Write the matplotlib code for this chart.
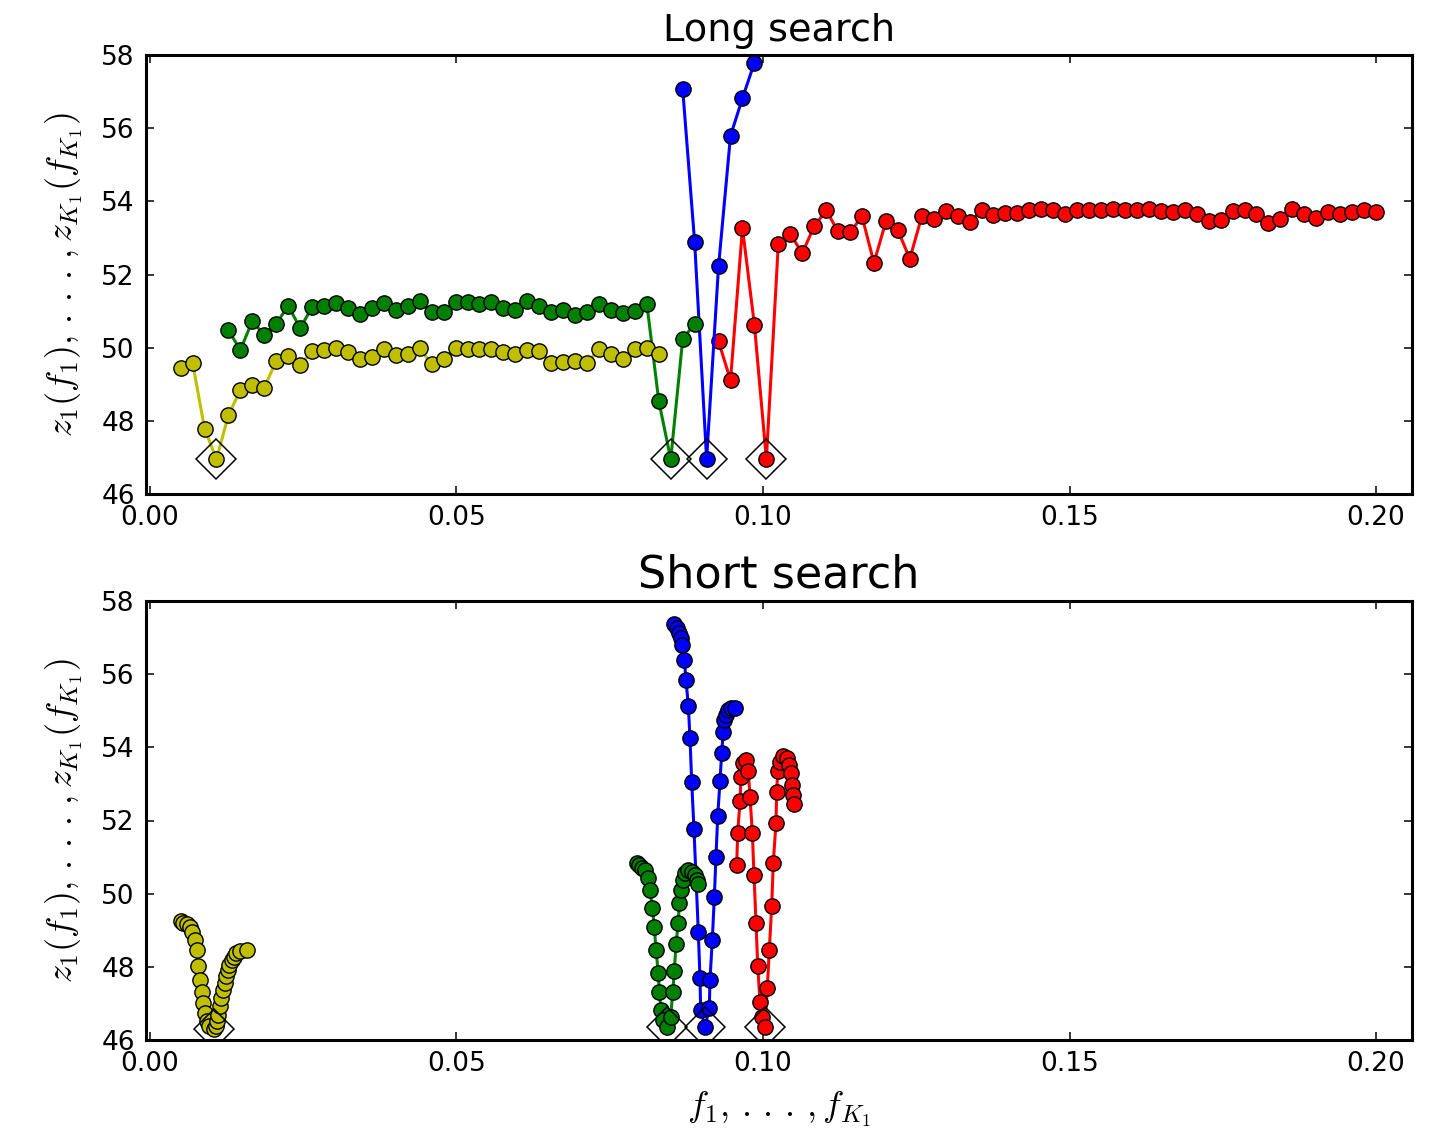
import numpy as np
import matplotlib
matplotlib.use("Agg")
import matplotlib.pyplot as plt

plt.rcParams['mathtext.fontset'] = 'cm'
plt.rcParams['font.family'] = ['DejaVu Sans']

# ---------------- Long search data ----------------
long_f_start, long_f_stop, long_f_count = 0.005, 0.2, 101
long_f_grid = np.linspace(long_f_start, long_f_stop, long_f_count)

long_yellow_start = 0
long_yellow = [49.45, 49.59, 47.79, 46.95, 48.16, 48.84, 48.98, 48.91, 49.64, 49.77,
               49.52, 49.91, 49.94, 50.00, 49.88, 49.68, 49.74, 49.95, 49.79, 49.84,
               49.98, 49.55, 49.68, 50.00, 49.95, 49.95, 49.97, 49.88, 49.82, 49.93,
               49.91, 49.57, 49.61, 49.64, 49.59, 49.95, 49.82, 49.68, 49.95, 50.00,
               49.82]

long_green_start = 4
long_green = [50.47, 49.94, 50.73, 50.34, 50.65, 51.15, 50.53, 51.11, 51.15, 51.23,
              51.09, 50.91, 51.09, 51.23, 51.04, 51.15, 51.27, 50.97, 50.97, 51.25,
              51.25, 51.20, 51.25, 51.09, 51.04, 51.27, 51.13, 50.98, 51.02, 50.88,
              50.98, 51.18, 51.02, 50.95, 51.00, 51.20, 48.54, 46.95, 50.23, 50.66]

long_blue_start = 42
long_blue = [57.07, 52.88, 46.95, 52.23, 55.79, 56.82, 57.79]

long_red_start = 45
long_red = [50.17, 49.11, 53.27, 50.62, 46.95, 52.84, 53.11, 52.58, 53.32, 53.75,
            53.18, 53.15, 53.59, 52.32, 53.45, 53.21, 52.43, 53.59, 53.52, 53.73,
            53.61, 53.43, 53.75, 53.64, 53.68, 53.68, 53.75, 53.79, 53.75, 53.66,
            53.75, 53.77, 53.77, 53.79, 53.77, 53.77, 53.79, 53.73, 53.71, 53.75,
            53.66, 53.45, 53.50, 53.73, 53.77, 53.65, 53.41, 53.52, 53.80, 53.66,
            53.55, 53.70, 53.66, 53.70, 53.77, 53.71]

# ---------------- Short search data ----------------
short_yellow_f = [0.00506, 0.00544, 0.00598, 0.00653, 0.00690, 0.00734, 0.00761, 0.00788,
                  0.00816, 0.00843, 0.00870, 0.00897, 0.00924, 0.00962, 0.01040, 0.01070,
                  0.01092, 0.01113, 0.01134, 0.01162, 0.01190, 0.01216, 0.01243, 0.01271,
                  0.01297, 0.01330, 0.01363, 0.01407, 0.01461, 0.01577]
short_yellow_z = [49.24, 49.21, 49.17, 49.10, 48.96, 48.74, 48.46, 48.01,
                  47.64, 47.32, 47.01, 46.73, 46.51, 46.37, 46.31, 46.37,
                  46.51, 46.69, 46.92, 47.14, 47.37, 47.55, 47.75, 47.92,
                  48.05, 48.19, 48.28, 48.37, 48.42, 48.46]

short_green_f = [0.07939, 0.07982, 0.08021, 0.08075, 0.08129, 0.08157, 0.08194, 0.08227,
                 0.08254, 0.08292, 0.08308, 0.08336, 0.08374, 0.08440, 0.08494, 0.08527,
                 0.08553, 0.08581, 0.08618, 0.08635, 0.08662, 0.08690, 0.08728, 0.08782,
                 0.08837, 0.08891, 0.08928, 0.08945]
short_green_z = [50.83, 50.79, 50.71, 50.65, 50.42, 50.10, 49.62, 49.10,
                 48.46, 47.84, 47.30, 46.83, 46.55, 46.35, 46.64, 47.30,
                 47.89, 48.62, 49.21, 49.74, 50.10, 50.38, 50.56, 50.65,
                 50.60, 50.51, 50.38, 50.26]

short_blue_f = [0.08553, 0.08592, 0.08630, 0.08662, 0.08684, 0.08717, 0.08744, 0.08782,
                0.08809, 0.08837, 0.08874, 0.08945, 0.08972, 0.08983, 0.09054, 0.09124,
                0.09135, 0.09173, 0.09206, 0.09233, 0.09261, 0.09299, 0.09326, 0.09352,
                0.09369, 0.09391, 0.09424, 0.09478, 0.09543]
short_blue_z = [57.37, 57.25, 57.12, 56.98, 56.80, 56.39, 55.84, 55.13,
                54.25, 53.06, 51.76, 48.94, 47.69, 46.82, 46.35, 46.87,
                47.64, 48.74, 49.90, 51.01, 52.11, 53.09, 53.85, 54.43,
                54.75, 54.89, 55.02, 55.07, 55.07]

short_red_f = [0.09571, 0.09587, 0.09625, 0.09641, 0.09679, 0.09718, 0.09760, 0.09788,
               0.09826, 0.09853, 0.09886, 0.09914, 0.09951, 0.09989, 0.10030, 0.10070,
               0.10103, 0.10142, 0.10168, 0.10212, 0.10223, 0.10240, 0.10277, 0.10331,
               0.10387, 0.10424, 0.10457, 0.10478, 0.10494, 0.10511]
short_red_z = [50.79, 51.67, 52.52, 53.18, 53.58, 53.66, 53.34, 52.65,
               51.67, 50.51, 49.21, 48.01, 47.05, 46.64, 46.35, 47.42,
               48.46, 49.67, 50.85, 51.94, 52.79, 53.34, 53.61, 53.75,
               53.70, 53.52, 53.29, 52.97, 52.70, 52.45]

x_ticks = [0.00, 0.05, 0.10, 0.15, 0.20]
x_tick_labels = ['0.00', '0.05', '0.10', '0.15', '0.20']
y_ticks = [46, 48, 50, 52, 54, 56, 58]
y_tick_labels = ['46', '48', '50', '52', '54', '56', '58']
titles = ['Long search', 'Short search']
ylabel = r'$z_1(f_1),\,.\,.\,.\,,z_{K_1}(f_{K_1})$'
xlabel = r'$f_1,\,.\,.\,.\,,f_{K_1}$'

colors = {'y': (0.75, 0.75, 0.0), 'g': (0.0, 0.5, 0.0), 'b': (0.0, 0.0, 1.0), 'r': (1.0, 0.0, 0.0)}

W, H, DPI = 1441, 1141, 100
fig = plt.figure(figsize=(W / DPI, H / DPI), dpi=DPI, facecolor='white')

ax_left = 146 / W
ax_w = (1412 - 146) / W
ax_h = (494 - 55) / H
ax_top = fig.add_axes([ax_left, 1 - 494 / H, ax_w, ax_h])
ax_bot = fig.add_axes([ax_left, 1 - 1040 / H, ax_w, ax_h])

line_kw = dict(marker='o', markersize=11, markeredgecolor='k', markeredgewidth=1.0,
               linewidth=2.2)
diam_kw = dict(marker='D', markersize=20, markerfacecolor='none', markeredgecolor='k',
               markeredgewidth=1.1, linestyle='none', zorder=5)

def long_series(start, vals):
    f = long_f_grid[start:start + len(vals)]
    return f, np.asarray(vals)

long_sets = [('r', long_red_start, long_red), ('b', long_blue_start, long_blue),
             ('g', long_green_start, long_green), ('y', long_yellow_start, long_yellow)]
for c, st, vals in long_sets:
    f, z = long_series(st, vals)
    ax_top.plot(f, z, color=colors[c], markerfacecolor=colors[c], **line_kw)
for c, st, vals in long_sets:
    f, z = long_series(st, vals)
    k = int(np.argmin(z))
    ax_top.plot([f[k]], [z[k]], **diam_kw)

short_sets = [('r', short_red_f, short_red_z), ('b', short_blue_f, short_blue_z),
              ('g', short_green_f, short_green_z), ('y', short_yellow_f, short_yellow_z)]
for c, f, z in short_sets:
    ax_bot.plot(f, z, color=colors[c], markerfacecolor=colors[c], **line_kw)
for c, f, z in short_sets:
    k = int(np.argmin(z))
    ax_bot.plot([f[k]], [z[k]], **diam_kw)

for ax, t, tsize in [(ax_top, titles[0], 27.5), (ax_bot, titles[1], 32)]:
    ax.set_xlim(-0.00065, 0.20587)
    ax.set_ylim(46, 58)
    ax.set_xticks(x_ticks)
    ax.set_xticklabels(x_tick_labels)
    ax.set_yticks(y_ticks)
    ax.set_yticklabels(y_tick_labels)
    ax.tick_params(direction='in', top=True, right=True, length=6, width=1.1,
                   labelsize=19, pad=8)
    for s in ax.spines.values():
        s.set_linewidth(2.2)
    ax.set_title(t, fontsize=tsize, pad=10)
    ax.set_ylabel(ylabel, fontsize=26, labelpad=12)

ax_bot.set_xlabel(xlabel, fontsize=26, labelpad=9)

fig.savefig('out.png', dpi=DPI, facecolor='white')
